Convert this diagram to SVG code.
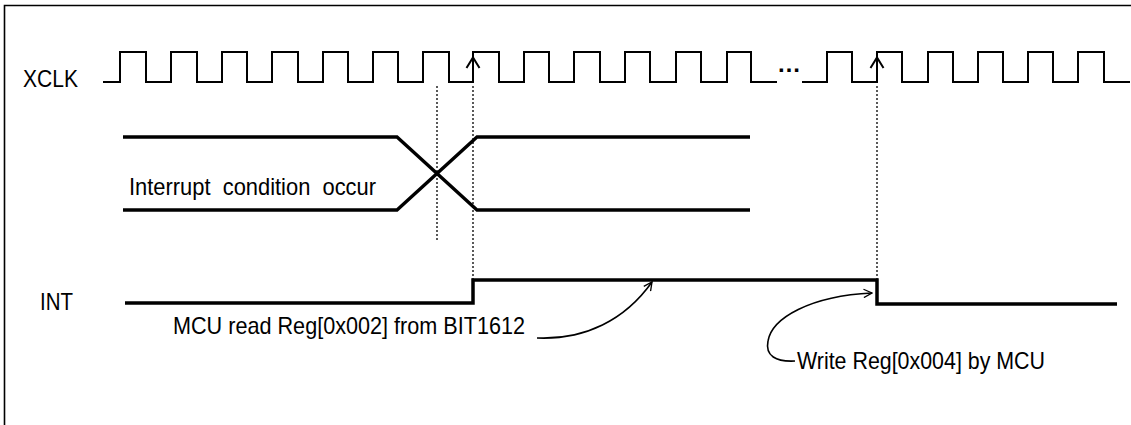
<svg xmlns="http://www.w3.org/2000/svg" width="1131" height="425" viewBox="0 0 1131 425">
<style>
  .lbl{font-family:"Liberation Sans",Arial,sans-serif;font-size:23px;fill:#000}
  .wave{fill:none;stroke:#000;stroke-width:2;stroke-linejoin:miter}
  .bus{fill:none;stroke:#000;stroke-width:3.3}
  .int{fill:none;stroke:#000;stroke-width:3.5}
  .dot{fill:none;stroke:#000;stroke-width:1.3;stroke-dasharray:2 2}
  .curve{fill:none;stroke:#000;stroke-width:1.6}
</style>
<defs>
  <marker id="open" viewBox="0 0 12 12" refX="11" refY="6" markerWidth="10" markerHeight="10" markerUnits="userSpaceOnUse" orient="auto">
    <path d="M1 1 L11 6 L1 11" fill="none" stroke="#000" stroke-width="1.6"/>
  </marker>
</defs>
<rect width="1131" height="425" fill="#fff"/>
<path d="M4.5 425 V5.5 H1131" fill="none" stroke="#000" stroke-width="1.6"/>

<g id="xclk">
  <text class="lbl" x="23" y="87" textLength="55" lengthAdjust="spacingAndGlyphs">XCLK</text>
  <path class="wave" d="M103 82 H120 V52 H146 V82 H171 V52 H197 V82 H222 V52 H247 V82 H272 V52 H298 V82 H323 V52 H348 V82 H373 V52 H398 V82 H423 V52 H449 V82 H473 V52 H499 V82 H524 V52 H549 V82 H574 V52 H600 V82 H625 V52 H650 V82 H676 V52 H701 V82 H727 V52 H751 V82 H777"/>
  <text class="lbl" x="789" y="72" text-anchor="middle" style="font-size:24px;font-weight:bold">…</text>
  <path class="wave" d="M802 82 H827 V52 H852 V82 H877 V52 H902 V82 H928 V52 H953 V82 H978 V52 H1003 V82 H1028 V52 H1053 V82 H1078 V52 H1104 V82 H1130"/>
</g>

<g id="condition">
  <path class="bus" d="M123 137 H397 L477 210 H750"/>
  <path class="bus" d="M123 210 H397 L477 137 H750"/>
  <text class="lbl" x="129" y="195" xml:space="preserve" textLength="247" lengthAdjust="spacingAndGlyphs" style="font-size:24px;white-space:pre">Interrupt  condition  occur</text>
</g>

<g id="int">
  <text class="lbl" x="40" y="310" textLength="33" lengthAdjust="spacingAndGlyphs">INT</text>
  <path class="int" d="M125 303 H473 V280 H877 V304 H1117"/>
</g>

<g id="label-read">
  <text class="lbl" x="173" y="334" textLength="352" lengthAdjust="spacingAndGlyphs" style="font-size:24px">MCU read Reg[0x002] from BIT1612</text>
</g>

<g id="label-write">
  <text class="lbl" x="797" y="369" textLength="248" lengthAdjust="spacingAndGlyphs" style="font-size:24px">Write Reg[0x004] by MCU</text>
</g>

<g id="connectors">
  <line class="dot" x1="437" y1="86" x2="437" y2="240"/>
  <line class="dot" x1="473" y1="86" x2="473" y2="280"/>
  <line class="dot" x1="877" y1="86" x2="877" y2="280"/>
  <path d="M466.5 68 L473 57.5 L479.5 68" fill="none" stroke="#000" stroke-width="2"/>
  <path d="M870.5 68 L877 57.5 L883.5 68" fill="none" stroke="#000" stroke-width="2"/>
  <path class="curve" d="M537 338 C585 340 625 320 652 282" marker-end="url(#open)"/>
  <path class="curve" d="M795 361 C776 362 765 356 768 341 C772 318 810 296 872 293" marker-end="url(#open)"/>
</g>
</svg>
